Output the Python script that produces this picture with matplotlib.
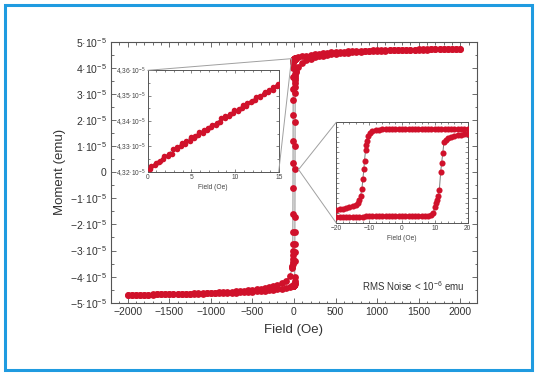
import matplotlib
matplotlib.use("Agg")
import matplotlib.pyplot as plt
from matplotlib.patches import Rectangle, ConnectionPatch
from matplotlib.ticker import MultipleLocator, FixedLocator, FuncFormatter

plt.rcParams['font.family'] = ['Liberation Sans', 'DejaVu Sans']
plt.rcParams['mathtext.default'] = 'regular'

# moments are in units of 1e-5 emu
outer_h = [50, 100, 150, 200, 250, 300, 350, 400, 450, 500, 550, 600, 650, 700, 750, 800,
           850, 900, 950, 1000, 1050, 1100, 1150, 1200, 1250, 1300, 1350, 1400, 1450, 1500,
           1550, 1600, 1650, 1700, 1750, 1800, 1850, 1900, 1950, 2000]

# descending branch, positive fields (order of outer_h)
desc_pos_m = [4.40, 4.44, 4.47, 4.50, 4.52, 4.54, 4.56, 4.575, 4.59, 4.60, 4.61, 4.62, 4.63,
              4.635, 4.64, 4.65, 4.655, 4.66, 4.665, 4.67, 4.675, 4.68, 4.683, 4.686, 4.689,
              4.692, 4.695, 4.698, 4.70, 4.703, 4.705, 4.707, 4.709, 4.711, 4.713, 4.715,
              4.717, 4.718, 4.719, 4.72]
# ascending branch, positive fields
asc_pos_m = [4.02, 4.18, 4.28, 4.35, 4.40, 4.44, 4.47, 4.50, 4.52, 4.54, 4.555, 4.57, 4.585,
             4.595, 4.605, 4.615, 4.625, 4.633, 4.64, 4.647, 4.653, 4.659, 4.665, 4.67, 4.675,
             4.679, 4.683, 4.687, 4.69, 4.694, 4.697, 4.70, 4.703, 4.706, 4.709, 4.711, 4.714,
             4.716, 4.718, 4.72]
# descending branch, negative fields (at -outer_h)
desc_neg_m = [-3.98, -4.15, -4.25, -4.32, -4.37, -4.41, -4.44, -4.47, -4.49, -4.51, -4.53,
              -4.545, -4.56, -4.57, -4.58, -4.59, -4.598, -4.605, -4.612, -4.62, -4.626,
              -4.632, -4.637, -4.642, -4.647, -4.652, -4.656, -4.66, -4.664, -4.668, -4.672,
              -4.676, -4.68, -4.684, -4.688, -4.691, -4.694, -4.696, -4.698, -4.70]
# ascending branch, negative fields (at -outer_h)
asc_neg_m = [-4.40, -4.44, -4.47, -4.49, -4.51, -4.53, -4.545, -4.56, -4.57, -4.58, -4.59,
             -4.60, -4.605, -4.61, -4.615, -4.62, -4.625, -4.63, -4.635, -4.64, -4.645,
             -4.65, -4.653, -4.656, -4.66, -4.663, -4.666, -4.669, -4.672, -4.675, -4.678,
             -4.681, -4.684, -4.687, -4.69, -4.692, -4.694, -4.696, -4.698, -4.70]

# low field part of the loop (-20..20 Oe)
desc_in_h = [20, 19, 18, 17, 16, 15, 14, 13, 12, 11, 10, 9, 8, 7, 6, 5, 4, 3, 2, 1, 0,
             -1, -2, -3, -4, -5, -6, -7, -8, -9, -9.7, -10.2, -10.5, -10.8, -11.1, -11.4,
             -11.6, -11.9, -12.2, -12.6, -13.0, -13.5, -14, -15, -16, -17, -18, -19, -20]
desc_in_m = [4.365, 4.362, 4.359, 4.357, 4.355, 4.353, 4.351, 4.349, 4.347, 4.345, 4.343,
             4.341, 4.339, 4.337, 4.335, 4.333, 4.330, 4.328, 4.326, 4.323, 4.321, 4.318,
             4.314, 4.310, 4.305, 4.298, 4.29, 4.27, 4.24, 4.17, 3.98, 3.64, 3.18, 2.75,
             2.2, 1.2, 0.35, -0.6, -1.6, -2.3, -2.75, -3.0, -3.18, -3.33, -3.44, -3.52,
             -3.58, -3.63, -3.68]
asc_in_h = [-20, -19, -18, -17, -16, -15, -14, -13, -12, -11, -10, -9, -8, -7, -6, -5, -4,
            -3, -2, -1, 0, 1, 2, 3, 4, 5, 6, 7, 8, 9, 9.5, 10.1, 10.5, 10.8, 11.1, 11.4,
            11.8, 12.1, 12.4, 12.8, 13.4, 14, 15, 16, 17, 18, 19, 20]
asc_in_m = [-4.37, -4.368, -4.366, -4.364, -4.362, -4.360, -4.358, -4.356, -4.354, -4.352,
            -4.350, -4.348, -4.346, -4.344, -4.342, -4.340, -4.338, -4.336, -4.334, -4.332,
            -4.330, -4.327, -4.324, -4.320, -4.316, -4.31, -4.30, -4.285, -4.26, -4.18,
            -4.0, -3.42, -3.05, -2.76, -2.3, -1.7, 0.11, 1.0, 1.93, 3.02, 3.25, 3.4, 3.52,
            3.62, 3.7, 3.77, 3.83, 3.88]

# zoom on 0..15 Oe, two sweeps
zoom_h_a = [0.3, 0.8, 1.3, 1.8, 2.3, 2.8, 3.3, 3.8, 4.3, 4.8, 5.3, 5.8, 6.3, 6.8, 7.3, 7.8,
            8.3, 8.8, 9.3, 9.8, 10.3, 10.8, 11.3, 11.8, 12.3, 12.8, 13.3, 13.8, 14.3, 14.8]
zoom_m_a = [4.3212, 4.3226, 4.3238, 4.3251, 4.3262, 4.3270, 4.3290, 4.3300, 4.3308, 4.3320,
            4.3331, 4.3343, 4.3352, 4.3363, 4.3375, 4.3385, 4.3395, 4.3410, 4.3418, 4.3430,
            4.3440, 4.3452, 4.3460, 4.3474, 4.3482, 4.3495, 4.3505, 4.3515, 4.3524, 4.3538]
zoom_h_b = [0.4, 0.9, 1.4, 1.9, 2.4, 2.9, 3.4, 3.9, 4.4, 4.9, 5.4, 5.9, 6.4, 6.9, 7.4, 7.9,
            8.4, 8.9, 9.4, 9.9, 10.4, 10.9, 11.4, 11.9, 12.4, 12.9, 13.4, 13.9, 14.4, 14.9]
zoom_m_b = [4.3222, 4.3235, 4.3244, 4.3262, 4.3270, 4.3290, 4.3296, 4.3312, 4.3322, 4.3335,
            4.3340, 4.3355, 4.3366, 4.3372, 4.3386, 4.3394, 4.3410, 4.3420, 4.3428, 4.3442,
            4.3448, 4.3462, 4.3472, 4.3480, 4.3494, 4.3500, 4.3516, 4.3522, 4.3536, 4.3546]
zoom_yticks = [4.32, 4.33, 4.34, 4.35, 4.36]
zoom_ylabels = ['4,32·10$^{-5}$', '4,33·10$^{-5}$', '4,34·10$^{-5}$',
                '4,35·10$^{-5}$', '4,36·10$^{-5}$']

# full branches
desc_h = outer_h[::-1] + desc_in_h + [-h for h in outer_h]
desc_m = desc_pos_m[::-1] + desc_in_m + desc_neg_m
asc_h = [-h for h in outer_h][::-1] + asc_in_h + outer_h
asc_m = asc_neg_m[::-1] + asc_in_m + asc_pos_m

red = '#d0112b'
gray = '#7a7a7a'
frame = '#555555'

fig = plt.figure(figsize=(5.36, 3.74), dpi=100)
fig.patches.append(Rectangle((4.5 / 536, 4.5 / 374), 527 / 536, 365 / 374,
                             transform=fig.transFigure, fill=False,
                             edgecolor='#1f9be0', linewidth=2.2))

ax = fig.add_axes([0.2071, 0.1906, 0.6828, 0.6979])
for h, m in [(desc_h, desc_m), (asc_h, asc_m)]:
    ax.plot(h, m, '-', color=gray, lw=0.6, zorder=2)
    ax.plot(h, m, 'o', color=red, ms=4.9, mec='none', zorder=3)
ax.set_xlim(-2200, 2200)
ax.set_ylim(-5, 5)
ax.xaxis.set_major_locator(MultipleLocator(500))
ax.xaxis.set_minor_locator(MultipleLocator(100))
ax.yaxis.set_major_locator(MultipleLocator(1))
ax.yaxis.set_minor_locator(MultipleLocator(0.5))
ax.xaxis.set_major_formatter(FuncFormatter(lambda v, p: f"{int(v)}".replace('-', '\u2212')))
ax.yaxis.set_major_formatter(FuncFormatter(
    lambda v, p: "0" if abs(v) < 1e-9 else f"{int(v)}".replace('-', '\u2212') + "·10$^{-5}$"))
ax.tick_params(which='both', direction='in', top=True, right=True, color=frame,
               labelsize=7.5, labelcolor='#333333', width=0.6)
ax.tick_params(which='major', length=3.5, pad=3)
ax.tick_params(which='minor', length=1.8)
for s in ax.spines.values():
    s.set_color(frame)
    s.set_linewidth(0.8)
ax.set_xlabel('Field (Oe)', fontsize=9.5, color='#333333', labelpad=5)
ax.set_ylabel('Moment (emu)', fontsize=9.5, color='#333333', labelpad=3)
ax.text(0.685, 0.062, 'RMS Noise < 10$^{-6}$ emu', transform=ax.transAxes,
        fontsize=7, color='#333333', ha='left', va='center')

# inset 1: 0..15 Oe
in1 = fig.add_axes([0.2756, 0.5409, 0.2444, 0.2711])
for h, m in [(zoom_h_a, zoom_m_a), (zoom_h_b, zoom_m_b)]:
    in1.plot(h, m, '-', color=gray, lw=0.6, zorder=2)
    in1.plot(h, m, 'o', color=red, ms=4.0, mec='none', zorder=3)
in1.set_xlim(0, 15)
in1.set_ylim(4.32, 4.36)
in1.xaxis.set_major_locator(MultipleLocator(5))
in1.xaxis.set_minor_locator(MultipleLocator(1))
in1.yaxis.set_major_locator(FixedLocator(zoom_yticks))
in1.yaxis.set_minor_locator(MultipleLocator(0.005))
in1.set_yticklabels(zoom_ylabels)
in1.set_xlabel('Field (Oe)', fontsize=4.8, color='#444444', labelpad=2)

# inset 2: -20..20 Oe
in2 = fig.add_axes([0.6274, 0.4037, 0.2450, 0.2695])
for h, m in [(desc_h, desc_m), (asc_h, asc_m)]:
    in2.plot(h, m, '-', color=gray, lw=0.7, zorder=2)
    in2.plot(h, m, 'o', color=red, ms=4.4, mec='none', zorder=3)
in2.set_xlim(-20, 20)
in2.set_ylim(-5, 5)
in2.xaxis.set_major_locator(MultipleLocator(10))
in2.xaxis.set_minor_locator(MultipleLocator(2))
in2.yaxis.set_major_locator(MultipleLocator(1))
in2.yaxis.set_minor_locator(MultipleLocator(0.5))
in2.set_yticklabels([])
in2.xaxis.set_major_formatter(FuncFormatter(lambda v, p: f"{int(v)}".replace('-', '\u2212')))
in2.set_xlabel('Field (Oe)', fontsize=4.8, color='#444444', labelpad=2)

for a in (in1, in2):
    a.tick_params(which='both', direction='in', top=True, right=True, color=frame,
                  labelsize=4.8, labelcolor='#444444', width=0.5, pad=1.5)
    a.tick_params(which='major', length=2.5)
    a.tick_params(which='minor', length=1.5)
    for s in a.spines.values():
        s.set_color(frame)
        s.set_linewidth(0.7)

# connector lines from the loop to the insets
for xyA, axA, xyB in [((0, 1), in1, (-30, 4.35)), ((1, 0), in1, (-30, 4.35)),
                      ((0, 1), in2, (55, 0.1)), ((0, 0), in2, (55, 0.1))]:
    con = ConnectionPatch(xyA=xyA, coordsA=axA.transAxes, xyB=xyB, coordsB=ax.transData,
                          color='#a0a0a0', lw=0.7)
    fig.add_artist(con)

fig.savefig('out.png', dpi=100)
